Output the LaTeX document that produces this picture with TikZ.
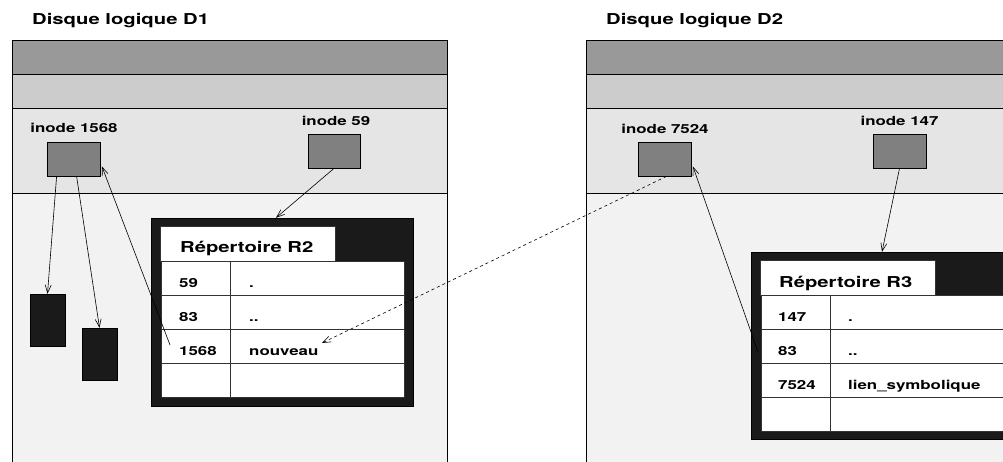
\documentclass[tikz,border=0pt]{standalone}
\usepackage{fontspec}
\usepackage{graphicx}
\setmainfont{TeX Gyre Heros}
\usetikzlibrary{arrows.meta,calc}
\newcommand\widetxt[1]{\scalebox{1.35}[1]{#1}}
\definecolor{bandA}{HTML}{999999}
\definecolor{bandB}{HTML}{CCCCCC}
\definecolor{bandC}{HTML}{E5E5E5}
\definecolor{bandD}{HTML}{F2F2F2}
\definecolor{inodegray}{HTML}{808080}
\definecolor{blk}{HTML}{1A1A1A}
\tikzset{
  band/.style={draw=black, line width=0.8pt},
  inodebox/.style={draw=black, line width=0.8pt, fill=inodegray, minimum width=53pt, minimum height=34pt, inner sep=0pt},
  blockbox/.style={draw=black, fill=blk, minimum width=35pt, minimum height=52pt, inner sep=0pt},
  repframe/.style={draw=black, fill=blk, minimum width=262pt, minimum height=188pt, inner sep=0pt},
  cell/.style={draw=black!80, line width=0.8pt, fill=white},
  txt/.style={inner sep=0pt, font=\bfseries\fontsize{12.5}{14}\selectfont},
  ttl/.style={inner sep=0pt, font=\bfseries\fontsize{15}{18}\selectfont},
  arr/.style={line width=0.6pt, -{Straight Barb[length=8pt,width=6pt]}},
}
\begin{document}
\begin{tikzpicture}[x=1pt,y=-1pt]
\useasboundingbox (0,0) rectangle (1003,462);
\fill[white] (0,0) rectangle (1003,462);
\clip (0,0) rectangle (1003,462);

% ---- Disk D1 ----
\filldraw[band, fill=bandA] (12,40) rectangle (447,74);
\filldraw[band, fill=bandB] (12,74) rectangle (447,108);
\filldraw[band, fill=bandC] (12,108) rectangle (447,193);
\filldraw[band, fill=bandD] (12,193) rectangle (447,475);
\node[ttl, anchor=base west] (t1) at (32,25) {\widetxt{Disque logique D1}};

% ---- Disk D2 ----
\filldraw[band, fill=bandA] (586,40) rectangle (1020,74);
\filldraw[band, fill=bandB] (586,74) rectangle (1020,108);
\filldraw[band, fill=bandC] (586,108) rectangle (1020,193);
\filldraw[band, fill=bandD] (586,193) rectangle (1020,475);
\node[ttl, anchor=base west] (t2) at (606,25) {\widetxt{Disque logique D2}};

% ---- inodes ----
\node[inodebox] (i1568) at (73.5,159) {};
\node[txt, anchor=base] (l1568) at (74,133) {\widetxt{inode 1568}};
\node[inodebox, minimum width=52pt] (i59) at (334,151) {};
\node[txt, anchor=base] (l59) at (336,126) {\widetxt{inode 59}};
\node[inodebox] (i7524) at (664.5,159) {};
\node[txt, anchor=base] (l7524) at (665,134) {\widetxt{inode 7524}};
\node[inodebox] (i147) at (899.5,151) {};
\node[txt, anchor=base] (l147) at (899.5,126) {\widetxt{inode 147}};

% ---- data blocks ----
\node[blockbox] (blkA) at (47.5,320) {};
\node[blockbox] (blkB) at (99.5,354) {};

% ---- Repertoire R2 ----
\node[repframe] (r2) at (282,312) {};
\filldraw[cell] (160,226) rectangle (335,261);
\node[ttl, anchor=base west] (r2t) at (180,253) {\widetxt{Répertoire R2}};
\foreach \ya/\yb in {261/295,295/329,329/363,363/397}{
  \filldraw[cell] (161,\ya) rectangle (230,\yb);
  \filldraw[cell] (230,\ya) rectangle (404,\yb);
}
\node[txt, anchor=base west] (r2a) at (179,287) {\widetxt{59}};
\node[txt, anchor=base west] (r2b) at (249,287) {\widetxt{.}};
\node[txt, anchor=base west] (r2c) at (179,321) {\widetxt{83}};
\node[txt, anchor=base west] (r2d) at (249,321) {\widetxt{..}};
\node[txt, anchor=base west] (r2e) at (179,355) {\widetxt{1568}};
\node[txt, anchor=base west] (nouveau) at (249,355) {\widetxt{nouveau}};

% ---- Repertoire R3 ----
\node[repframe, minimum height=187pt] (r3) at (882,345.5) {};
\filldraw[cell] (760,260) rectangle (935,295);
\node[ttl, anchor=base west] (r3t) at (779,287) {\widetxt{Répertoire R3}};
\foreach \ya/\yb in {295/329,329/363,363/397,397/431}{
  \filldraw[cell] (761,\ya) rectangle (830,\yb);
  \filldraw[cell] (830,\ya) rectangle (1004,\yb);
}
\node[txt, anchor=base west] (r3a) at (778,321) {\widetxt{147}};
\node[txt, anchor=base west] (r3b) at (848,321) {\widetxt{.}};
\node[txt, anchor=base west] (r3c) at (778,355) {\widetxt{83}};
\node[txt, anchor=base west] (r3d) at (848,355) {\widetxt{..}};
\node[txt, anchor=base west] (r3e) at (778,389) {\widetxt{7524}};
\node[txt, anchor=base west] (r3f) at (848,389) {\widetxt{lien\_symbolique}};

% ---- connectors ----
\coordinate (s1568) at (170,345);
\coordinate (s7524) at (758,352);
\coordinate (nvend) at (322,343);
\draw[arr] ($(i1568.south west)+(10,0)$) -- (blkA.north);
\draw[arr] ($(i1568.south west)+(30,0)$) -- (blkB.north);
\draw[arr] (s1568) -- ($(i1568.south east)+(1.5,-10)$);
\draw[arr] (i59.south) -- ($(r2.north)+(-6,0)$);
\draw[arr] (i147.south) -- (r3.north);
\draw[arr] (s7524) -- ($(i7524.south east)+(1.5,-10)$);
\draw[arr, dashed, dash pattern=on 3pt off 3pt] ($(i7524.south)+(2,0)$) -- (nvend);
\end{tikzpicture}
\end{document}
